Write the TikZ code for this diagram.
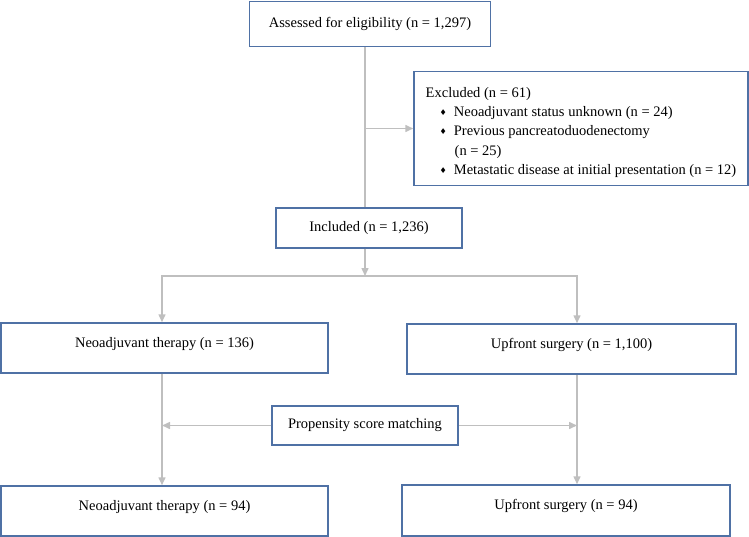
\documentclass[tikz,border=0pt]{standalone}
\usepackage{fontspec}
\setmainfont{Liberation Serif}
\newfontfamily\symfont{DejaVu Sans}
\usepackage{tikz}
\usetikzlibrary{arrows.meta}
\definecolor{boxblue}{RGB}{79,113,165}
\definecolor{linegray}{RGB}{191,191,191}
\newcommand{\dia}{{\symfont\fontsize{8}{8}\selectfont\raisebox{1pt}{♦}}}

\begin{document}
\begin{tikzpicture}[x=1pt, y=-1pt,
		font=\fontsize{14.5}{19.1}\selectfont,
		box/.style={draw=boxblue, line width=1.5pt, rectangle, inner sep=0pt, align=center},
		lift/.style={text height=10pt, text depth=12pt},
		link/.style={draw=linegray, line width=1.5pt},
		arr/.style={link, -{Triangle[length=8pt, width=7pt]}}]
		\useasboundingbox (0,0) rectangle (749,537);
		
		% Boxes
		\node[box, minimum width=241pt, minimum height=45pt] (assess) at (370,24) {Assessed for eligibility (n = 1,297)};
		\node[box, minimum width=334pt, minimum height=114pt, align=left] (excl) at (581,128.5)
		{\rule{0pt}{18pt}Excluded (n = 61)\\
			\hspace*{14pt}\dia\hspace{7pt}Neoadjuvant status unknown (n = 24)\\
			\hspace*{14pt}\dia\hspace{7pt}Previous pancreatoduodenectomy\\
			\hspace*{29pt}(n = 25)\\
			\hspace*{14pt}\dia\hspace{7pt}Metastatic disease at initial presentation (n = 12)};
		\node[box, minimum width=186pt, minimum height=40pt] (incl) at (369,228) {Included (n = 1,236)};
		\node[box, lift, minimum width=327pt, minimum height=50pt] (neo1) at (164.5,348) {Neoadjuvant therapy (n = 136)};
		\node[box, lift, minimum width=329pt, minimum height=50pt] (up1) at (571.5,349) {Upfront surgery (n = 1,100)};
		\node[box, minimum width=186pt, minimum height=39pt] (psm) at (365,425.5) {Propensity score matching};
		\node[box, lift, minimum width=327pt, minimum height=50pt] (neo2) at (164.5,511) {Neoadjuvant therapy (n = 94)};
		\node[box, lift, minimum width=328pt, minimum height=51pt] (up2) at (566,510.5) {Upfront surgery (n = 94)};
		
		% Connectors
		\coordinate (split) at (365,128.5);
		\coordinate (fork) at (365,276);
		\coordinate (lcol) at (162,425.5);
		\coordinate (rcol) at (577,425.5);
		\draw[link] (assess.south -| split) -- (incl.north -| split);
		\draw[arr] (split) -- (excl.west);
		\draw[arr] (incl.south -| fork) -- (fork);
		\draw[arr] (fork) -| (neo1.north -| lcol);
		\draw[arr] (fork) -| (up1.north -| rcol);
		\draw[arr] (neo1.south -| lcol) -- (neo2.north -| lcol);
		\draw[arr] (up1.south -| rcol) -- (up2.north -| rcol);
		\draw[arr] (psm.west) -- (lcol);
		\draw[arr] (psm.east) -- (rcol);
	\end{tikzpicture}
\end{document}
